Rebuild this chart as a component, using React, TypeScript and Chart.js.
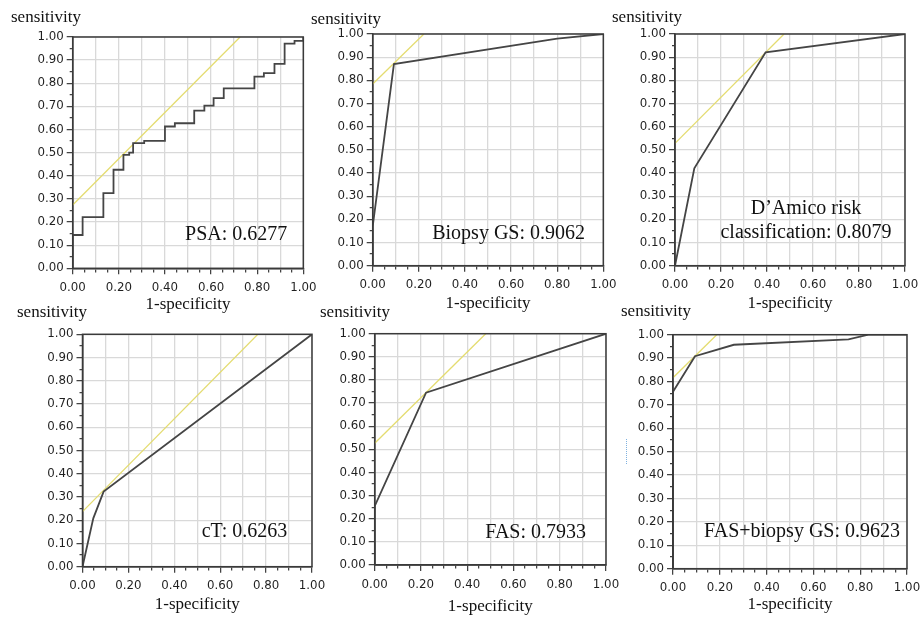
import React, { useEffect, useRef } from 'react';
import { Chart, registerables } from 'chart.js';

Chart.register(...registerables);

// ---------------- data ----------------
const psaFpr = [0, 0, 0.043, 0.133, 0.177, 0.22, 0.245, 0.262, 0.31, 0.4, 0.443, 0.527, 0.571, 0.611, 0.655, 0.788, 0.829, 0.875, 0.919, 0.962, 1.0];
const psaTpr = [0, 0.144, 0.221, 0.325, 0.426, 0.49, 0.5, 0.541, 0.551, 0.613, 0.627, 0.682, 0.703, 0.736, 0.778, 0.829, 0.844, 0.884, 0.971, 0.983, 1.0];
const psaRefFpr = [0, 0.726];
const psaRefTpr = [0.274, 1];

const biopsyFpr = [0, 0, 0.092, 0.8, 1];
const biopsyTpr = [0, 0.17, 0.87, 0.98, 1];
const biopsyRefFpr = [0, 0.222];
const biopsyRefTpr = [0.784, 1];

const damicoFpr = [0, 0.084, 0.394, 1];
const damicoTpr = [0, 0.42, 0.921, 1];
const damicoRefFpr = [0, 0.474];
const damicoRefTpr = [0.528, 1];

const ctFpr = [0, 0.047, 0.092, 1];
const ctTpr = [0, 0.208, 0.323, 1];
const ctRefFpr = [0, 0.764];
const ctRefTpr = [0.237, 1];

const fasFpr = [0, 0, 0.222, 1];
const fasTpr = [0, 0.255, 0.745, 1];
const fasRefFpr = [0, 0.48];
const fasRefTpr = [0.526, 1];

const comboFpr = [0, 0, 0.094, 0.26, 0.75, 0.835, 1];
const comboTpr = [0, 0.756, 0.908, 0.957, 0.98, 1, 1];
const comboRefFpr = [0, 0.187];
const comboRefTpr = [0.816, 1];

const yAxisTitle = 'sensitivity';
const xAxisTitle = '1-specificity';
const psaLabel = ['PSA: 0.6277'];
const biopsyLabel = ['Biopsy GS: 0.9062'];
const damicoLabel = ['D\u2019Amico risk', 'classification: 0.8079'];
const ctLabel = ['cT: 0.6263'];
const fasLabel = ['FAS: 0.7933'];
const comboLabel = ['FAS+biopsy GS: 0.9623'];

// ---------------- styling ----------------
const SERIF = '"Liberation Serif", "Times New Roman", serif';
const SANS = '"DejaVu Sans", Verdana, sans-serif';
const GRID = '#d9d9d9';
const AXIS = '#3a3a3a';
const CURVE = '#454545';
const REF = 'rgb(228,220,112)';
const TICK_TEXT = '#1f1f1f';
const PAD_R = 26;

type Box = { L: number; titleCY: number; plotLeft: number; plotRight: number; plotTop: number; plotBottom: number; xTitleCY: number };
type LabelPos = { align: 'right' | 'center'; x: number; baselines: number[] };
type Panel = {
  fpr: number[]; tpr: number[]; refFpr: number[]; refTpr: number[]; stepped: boolean;
  label: string[]; box: Box; labelPos: LabelPos;
};

const panels: Panel[] = [
  { fpr: psaFpr, tpr: psaTpr, refFpr: psaRefFpr, refTpr: psaRefTpr, stepped: true, label: psaLabel,
    box: { L: 11, titleCY: 18, plotLeft: 72.7, plotRight: 303.3, plotTop: 37, plotBottom: 268.3, xTitleCY: 305 },
    labelPos: { align: 'right', x: 287.3, baselines: [240] } },
  { fpr: biopsyFpr, tpr: biopsyTpr, refFpr: biopsyRefFpr, refTpr: biopsyRefTpr, stepped: false, label: biopsyLabel,
    box: { L: 311, titleCY: 20, plotLeft: 372.7, plotRight: 603.3, plotTop: 34, plotBottom: 265.7, xTitleCY: 304 },
    labelPos: { align: 'right', x: 585, baselines: [239.3] } },
  { fpr: damicoFpr, tpr: damicoTpr, refFpr: damicoRefFpr, refTpr: damicoRefTpr, stepped: false, label: damicoLabel,
    box: { L: 612, titleCY: 18, plotLeft: 675, plotRight: 905, plotTop: 34, plotBottom: 265.7, xTitleCY: 304 },
    labelPos: { align: 'center', x: 806, baselines: [214, 237.7] } },
  { fpr: ctFpr, tpr: ctTpr, refFpr: ctRefFpr, refTpr: ctRefTpr, stepped: false, label: ctLabel,
    box: { L: 17, titleCY: 313, plotLeft: 82.5, plotRight: 312, plotTop: 334.3, plotBottom: 566.7, xTitleCY: 605 },
    labelPos: { align: 'right', x: 287.3, baselines: [537.3] } },
  { fpr: fasFpr, tpr: fasTpr, refFpr: fasRefFpr, refTpr: fasRefTpr, stepped: false, label: fasLabel,
    box: { L: 320, titleCY: 313, plotLeft: 374.7, plotRight: 606, plotTop: 333.7, plotBottom: 565, xTitleCY: 607 },
    labelPos: { align: 'right', x: 586, baselines: [537.7] } },
  { fpr: comboFpr, tpr: comboTpr, refFpr: comboRefFpr, refTpr: comboRefTpr, stepped: false, label: comboLabel,
    box: { L: 621, titleCY: 312, plotLeft: 673, plotRight: 907, plotTop: 334.7, plotBottom: 568.7, xTitleCY: 605 },
    labelPos: { align: 'right', x: 900, baselines: [537.3] } },
];

function geom(b: Box) {
  const T = Math.floor(b.titleCY - 11.2);
  const B = Math.ceil(b.xTitleCY + 12.2);
  const W = Math.ceil(b.plotRight + PAD_R - b.L);
  const H = B - T;
  const tp = b.titleCY - 10.2 - T;
  const tb = b.plotTop - T - 20.4 - tp;
  const yW = b.plotLeft - b.L;
  const xH = B - b.plotBottom;
  const padR = W - (b.plotRight - b.L);
  const xtb = B - b.xTitleCY - 10.2;
  return { T, B, W, H, tp, tb, yW, xH, padR, xtb };
}

const hundredths = (v: number) => Math.round(v * 100);
const isTenth = (v: number) => hundredths(v) % 10 === 0;
const isFifth = (v: number) => hundredths(v) % 20 === 0;

const framePlugin = {
  id: 'frame',
  afterDraw(chart: any) {
    const { ctx, chartArea } = chart;
    ctx.save();
    ctx.strokeStyle = AXIS;
    ctx.lineWidth = 1.5;
    ctx.strokeRect(chartArea.left, chartArea.top, chartArea.right - chartArea.left, chartArea.bottom - chartArea.top);
    ctx.restore();
  },
};

function makeLabelPlugin(p: Panel, L: number, T: number) {
  return {
    id: 'rocLabel',
    afterDraw(chart: any) {
      const { ctx } = chart;
      ctx.save();
      ctx.font = `20px ${SERIF}`;
      ctx.fillStyle = '#111';
      ctx.textAlign = p.labelPos.align;
      ctx.textBaseline = 'alphabetic';
      p.label.forEach((line, i) => {
        ctx.fillText(line, p.labelPos.x - L, p.labelPos.baselines[i] - T);
      });
      ctx.restore();
    },
  };
}

function RocPanel({ p }: { p: Panel }) {
  const ref = useRef<HTMLCanvasElement | null>(null);
  const g = geom(p.box);
  useEffect(() => {
    if (!ref.current) return;
    const curve = p.fpr.map((x, i) => ({ x, y: p.tpr[i] }));
    const refLine = p.refFpr.map((x, i) => ({ x, y: p.refTpr[i] }));
    const chart = new Chart(ref.current, {
      type: 'scatter',
      data: {
        datasets: [
          { data: curve, showLine: true, borderColor: CURVE, borderWidth: 1.8, pointRadius: 0, stepped: p.stepped ? 'before' : false } as any,
          { data: refLine, showLine: true, borderColor: REF, borderWidth: 1.3, pointRadius: 0 } as any,
        ],
      },
      options: {
        responsive: false,
        maintainAspectRatio: false,
        animation: false,
        events: [],
        layout: { padding: { left: 0, top: 0, bottom: 0, right: g.padR } },
        plugins: {
          legend: { display: false },
          tooltip: { enabled: false },
          title: {
            display: true,
            text: yAxisTitle,
            align: 'start',
            color: '#111',
            font: { family: SERIF, size: 17, weight: 'normal' },
            padding: { top: g.tp, bottom: g.tb },
          },
        },
        scales: {
          x: {
            type: 'linear',
            position: 'bottom',
            min: 0,
            max: 1,
            afterFit: (s: any) => { s.height = g.xH; },
            ticks: {
              stepSize: 0.05,
              autoSkip: false,
              maxRotation: 0,
              minRotation: 0,
              padding: 6.5,
              color: TICK_TEXT,
              font: { family: SANS, size: 11.8 },
              callback: (v: any) => (isFifth(Number(v)) ? Number(v).toFixed(2) : ''),
            },
            grid: {
              color: (c: any) => (isTenth(c.tick.value) ? GRID : 'rgba(0,0,0,0)'),
              lineWidth: 1.3,
              tickColor: AXIS,
              tickWidth: 1.2,
              tickLength: 6,
              tickBorderDash: (c: any) => (isFifth(c.tick.value) ? [] : [3, 10]),
            },
            border: { display: true, color: AXIS, width: 1.5 },
            title: {
              display: true,
              text: xAxisTitle,
              color: '#111',
              font: { family: SERIF, size: 17, weight: 'normal' },
              padding: { top: 0, bottom: g.xtb },
            },
          },
          y: {
            type: 'linear',
            position: 'left',
            min: 0,
            max: 1,
            afterFit: (s: any) => { s.width = g.yW; },
            ticks: {
              stepSize: 0.05,
              autoSkip: false,
              padding: 3,
              color: TICK_TEXT,
              font: { family: SANS, size: 11.8 },
              callback: (v: any) => (isTenth(Number(v)) ? Number(v).toFixed(2) : ''),
            },
            grid: {
              color: (c: any) => (isTenth(c.tick.value) ? GRID : 'rgba(0,0,0,0)'),
              lineWidth: 1.3,
              tickColor: AXIS,
              tickWidth: 1.2,
              tickLength: 6,
              tickBorderDash: (c: any) => (isTenth(c.tick.value) ? [] : [3, 3]),
              tickBorderDashOffset: (c: any) => (isTenth(c.tick.value) ? 0 : 3),
            },
            border: { display: true, color: AXIS, width: 1.5 },
          },
        },
      } as any,
      plugins: [framePlugin, makeLabelPlugin(p, p.box.L, g.T)],
    });
    return () => chart.destroy();
  }, []);
  return (
    <canvas
      ref={ref}
      width={g.W}
      height={g.H}
      style={{ position: 'absolute', left: p.box.L, top: g.T, width: g.W, height: g.H }}
    />
  );
}

export default function App() {
  return (
    <div style={{ position: 'absolute', left: 0, top: 0, width: 921, height: 617, overflow: 'hidden', background: '#fff' }}>
      {panels.map((p, i) => (
        <RocPanel key={i} p={p} />
      ))}
      <div style={{ position: 'absolute', left: 626, top: 439, width: 0, height: 25, borderLeft: '1.5px dotted #7fb2e0' }} />
    </div>
  );
}
